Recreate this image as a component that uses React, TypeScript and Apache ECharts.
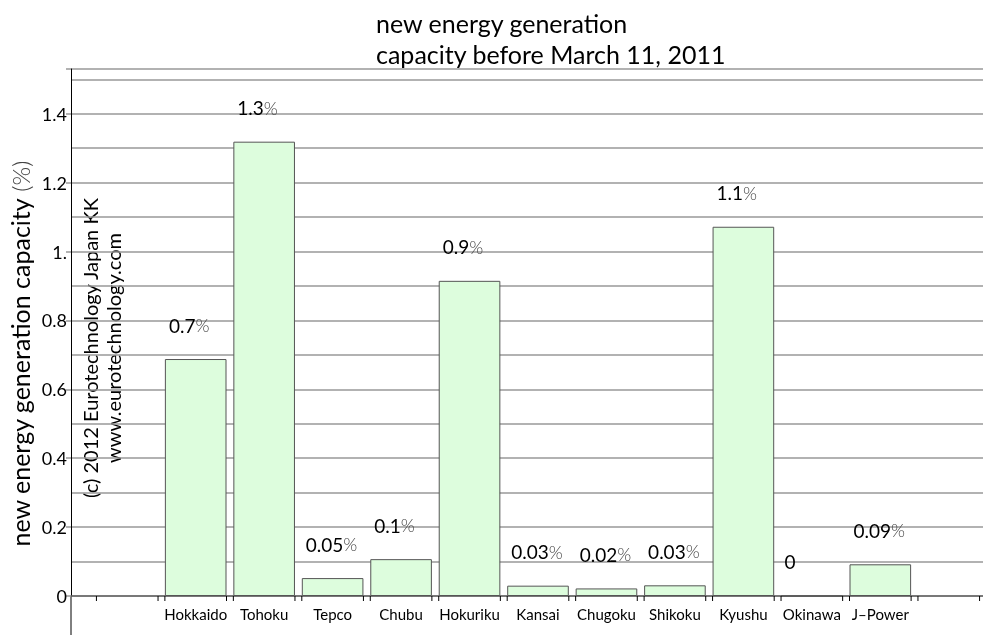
import React, { useEffect, useRef } from 'react';
import * as echarts from 'echarts';

const regions = ['Hokkaido', 'Tohoku', 'Tepco', 'Chubu', 'Hokuriku', 'Kansai', 'Chugoku', 'Shikoku', 'Kyushu', 'Okinawa', 'J\u2013Power'];
const capacityPct = [0.688, 1.319, 0.052, 0.107, 0.915, 0.030, 0.022, 0.031, 1.072, 0, 0.092];
const yTickValues = [0, 0.2, 0.4, 0.6, 0.8, 1, 1.2, 1.4];
const yTickLabels = ['0', '0.2', '0.4', '0.6', '0.8', '1.', '1.2', '1.4'];
const titleLines = ['new energy generation', 'capacity before March 11, 2011'];
const yAxisTitle = 'new energy generation capacity ';
const yAxisUnit = '(%)';
const copyrightLines = ['(c) 2012 Eurotechnology Japan KK', 'www.eurotechnology.com'];

const FONT = 'Lato, "Open Sans", "DejaVu Sans", sans-serif';

function fmtPct(v: number): string {
  if (v === 0) return '0';
  return v >= 0.1 ? v.toFixed(1) : v.toFixed(2);
}

export default function App() {
  const ref = useRef<HTMLDivElement>(null);
  useEffect(() => {
    if (!ref.current) return;
    const chart = echarts.init(ref.current, undefined, { renderer: 'svg' });
    const axisCategories = ['', ...regions, ''];
    const barData: any[] = ['-', ...capacityPct, '-'];
    const gridStyle = { color: '#999', width: 1.5 };
    chart.setOption({
      animation: false,
      textStyle: { fontFamily: FONT },
      title: {
        text: titleLines.join('\n'),
        left: 371,
        top: 2,
        textStyle: { fontSize: 25, fontWeight: 'normal', color: '#000', lineHeight: 31, fontFamily: FONT },
      },
      grid: [
        { left: 71, right: 0, top: 69, bottom: 39 },
        { left: 93, right: 0, top: 69, bottom: 39 },
      ],
      xAxis: [
        { gridIndex: 0, type: 'value', min: 0, max: 1, show: false },
        {
          gridIndex: 0, type: 'value', position: 'top', min: 0, max: 1,
          axisLine: { show: true, lineStyle: { color: '#666', width: 1.5 } },
          axisTick: { show: false }, axisLabel: { show: false }, splitLine: { show: false },
        },
        {
          gridIndex: 1, type: 'category', data: axisCategories,
          axisLine: { show: false }, axisTick: { show: false }, splitLine: { show: false },
          axisLabel: { interval: 0, fontSize: 15, color: '#000', margin: 10, fontFamily: FONT },
        },
      ],
      yAxis: [
        {
          gridIndex: 0, type: 'value', position: 'left', min: 0, max: 1.53, interval: 0.1,
          axisLine: { show: true, onZero: false, lineStyle: { color: '#000', width: 1 } },
          axisTick: { show: false }, axisLabel: { show: false },
          splitLine: { show: true, lineStyle: gridStyle },
        },
        {
          gridIndex: 0, type: 'value', position: 'left', min: 0, max: 1.53, interval: 0.2,
          axisLine: { show: false },
          axisTick: { show: true, length: 5, lineStyle: gridStyle },
          axisLabel: {
            fontSize: 18, color: '#000', margin: 4, fontFamily: FONT,
            formatter: (v: number) => {
              const i = yTickValues.findIndex((t) => Math.abs(t - v) < 1e-6);
              return i >= 0 ? yTickLabels[i] : '';
            },
          },
          splitLine: { show: false },
        },
        { gridIndex: 1, type: 'value', min: 0, max: 1.53, show: false },
      ],
      series: [
        {
          type: 'bar',
          xAxisIndex: 2,
          yAxisIndex: 2,
          data: barData,
          barWidth: '90%',
          itemStyle: { color: '#ddfddd', borderColor: '#555', borderWidth: 1 },
          label: {
            show: true,
            position: [4, -34],
            align: 'left',
            verticalAlign: 'middle',
            formatter: (p: any) => {
              const v = Number(p.value);
              return v === 0 ? '{v|0}' : `{v|${fmtPct(v)}}{p|%}`;
            },
            rich: {
              v: { fontSize: 19, color: '#000', fontFamily: FONT },
              p: { fontSize: 18, color: '#444', fontFamily: FONT, fontWeight: 300 },
            },
          },
        },
        {
          type: 'custom',
          xAxisIndex: 2,
          yAxisIndex: 2,
          silent: true,
          clip: false,
          z: 5,
          data: axisCategories.map((_, i) => [i, 0]),
          renderItem: (params: any, api: any) => {
            const c = api.coord([api.value(0), 0]);
            const half = api.size([1, 0])[0] * 0.45;
            return {
              type: 'group',
              children: [-1, 1].map((s) => ({
                type: 'line',
                shape: { x1: c[0] + s * half, y1: c[1], x2: c[0] + s * half, y2: c[1] + 5 },
                style: { stroke: '#000', lineWidth: 1 },
              })),
            };
          },
        },
      ],
      graphic: [
        {
          type: 'line',
          shape: { x1: 71, y1: 596, x2: 71, y2: 635 },
          style: { stroke: '#000', lineWidth: 1 },
        },
        {
          type: 'text',
          x: 20,
          y: 354,
          rotation: Math.PI / 2,
          style: {
            text: `{a|${yAxisTitle}}{b|${yAxisUnit}}`,
            align: 'center',
            verticalAlign: 'middle',
            rich: {
              a: { fontSize: 25, fill: '#000', fontFamily: FONT },
              b: { fontSize: 24, fill: '#444', fontFamily: FONT, fontWeight: 300 },
            },
          },
        },
        {
          type: 'text',
          x: 101,
          y: 348,
          rotation: Math.PI / 2,
          style: {
            text: copyrightLines.join('\n'),
            align: 'center',
            verticalAlign: 'middle',
            fontSize: 20,
            lineHeight: 23,
            fill: '#000',
            fontFamily: FONT,
          },
        },
      ],
    });
    return () => chart.dispose();
  }, []);
  return <div ref={ref} style={{ position: 'fixed', left: 0, top: 0, width: 983, height: 635 }} />;
}
